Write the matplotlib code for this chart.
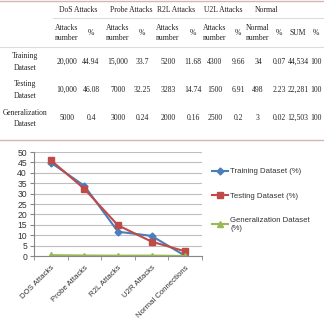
import numpy as np
import matplotlib
matplotlib.use("Agg")
import matplotlib.pyplot as plt
from matplotlib.lines import Line2D

# table data
groups = ["DoS Attacks", "Probe Attacks", "R2L Attacks", "U2L Attacks", "Normal"]
sub_headers = ["Attacks\nnumber", "%", "Attacks\nnumber", "%", "Attacks\nnumber", "%",
               "Attacks\nnumber", "%", "Normal\nnumber", "%", "SUM", "%"]
row_labels = ["Training\nDataset", "Testing\nDataset", "Generalization\nDataset"]
train_row = ["20,000", "44.94", "15,000", "33.7", "5200", "11.68", "4300", "9.66", "34", "0.07", "44,534", "100"]
test_row = ["10,000", "46.08", "7000", "32.25", "3283", "14.74", "1500", "6.91", "498", "2.23", "22,281", "100"]
gen_row = ["5000", "0.4", "3000", "0.24", "2000", "0.16", "2500", "0.2", "3", "0.02", "12,503", "100"]

# chart data
categories = ["DOS Attacks", "Probe Attacks", "R2L Attacks", "U2R Attacks", "Normal Connections"]
train_pct = [44.94, 33.7, 11.68, 9.66, 0.07]
test_pct = [46.08, 32.25, 14.74, 6.91, 2.23]
gen_pct = [0.4, 0.24, 0.16, 0.2, 0.02]

W = H = 324
fig = plt.figure(figsize=(3.24, 3.24), dpi=100)

def px(x, y):
    return x / W, 1 - y / H

serif = "Liberation Serif"
tfs = 5.5

# table lines
def hline(y, x0=0, x1=W, color="#dcdcdc", lw=0.8):
    fig.add_artist(Line2D([x0 / W, x1 / W], [1 - y / H, 1 - y / H], color=color, lw=lw))

hline(1, color="#d4b4b4", lw=1.0)
hline(18, x0=53)
hline(47)
hline(140, color="#d4b4b4", lw=1.0)

group_x = [78, 131, 176, 223, 267]
for g, gx in zip(groups, group_x):
    fig.text(*px(gx, 10), g, ha="center", va="center", family=serif, fontsize=tfs,
             color="#222222")

col_x = [67, 91, 118, 142, 168, 193, 215, 238, 258, 279, 298, 316]
for s, cx in zip(sub_headers, col_x):
    fig.text(*px(cx, 33), s, ha="center", va="center", family=serif, fontsize=tfs,
             linespacing=1.5, color="#222222")

row_y = [62, 90, 118]
for lab, ry, vals in zip(row_labels, row_y, [train_row, test_row, gen_row]):
    fig.text(*px(25, ry), lab, ha="center", va="center", family=serif, fontsize=tfs,
             linespacing=1.5, color="#222222")
    for v, cx in zip(vals, col_x):
        fig.text(*px(cx, ry), v, ha="center", va="center", family=serif, fontsize=tfs,
                 color="#222222")

# chart
ax = fig.add_axes([34 / W, 1 - 256 / H, (202 - 34) / W, (256 - 152) / H])
x = np.arange(len(categories))
ax.plot(x, train_pct, color="#4a7ebb", marker="D", ms=3.5, lw=1.5, label="Training Dataset (%)")
ax.plot(x, test_pct, color="#be4b48", marker="s", ms=4.5, lw=1.5, label="Testing Dataset (%)")
ax.plot(x, gen_pct, color="#98b954", marker="^", ms=4.5, lw=1.5, label="Generalization Dataset\n(%)")

ax.set_xlim(-0.5, len(categories) - 0.5)
ax.set_ylim(0, 50)
ax.set_yticks(np.arange(0, 51, 5))
ax.yaxis.grid(True, color="#bfbfbf", lw=0.8)
ax.set_axisbelow(True)
for s in ["top", "right"]:
    ax.spines[s].set_visible(False)
ax.spines["left"].set_color("#868686")
ax.spines["bottom"].set_color("#868686")
ax.set_xticks(x)
ax.set_xticklabels(categories, rotation=45, ha="right", rotation_mode="anchor",
                   family="Liberation Sans", fontsize=5.6, color="#333333")
ax.set_xticks(np.arange(-0.5, len(categories)), minor=True)
ax.tick_params(axis="x", which="major", length=0, pad=6)
ax.tick_params(axis="x", which="minor", length=3, color="#868686", direction="out")
ax.tick_params(axis="y", length=3, color="#868686", labelsize=6.2, labelcolor="#333333", pad=2)
for t in ax.get_yticklabels():
    t.set_family("Liberation Sans")

leg = fig.legend(loc="upper left", bbox_to_anchor=(205 / W, 1 - 161 / H), frameon=False,
                 prop={"family": "Liberation Sans", "size": 5.6}, handlelength=2.0,
                 labelspacing=2.2, handletextpad=0.35)
for t in leg.get_texts():
    t.set_color("#333333")

fig.savefig("out.png", dpi=100)
